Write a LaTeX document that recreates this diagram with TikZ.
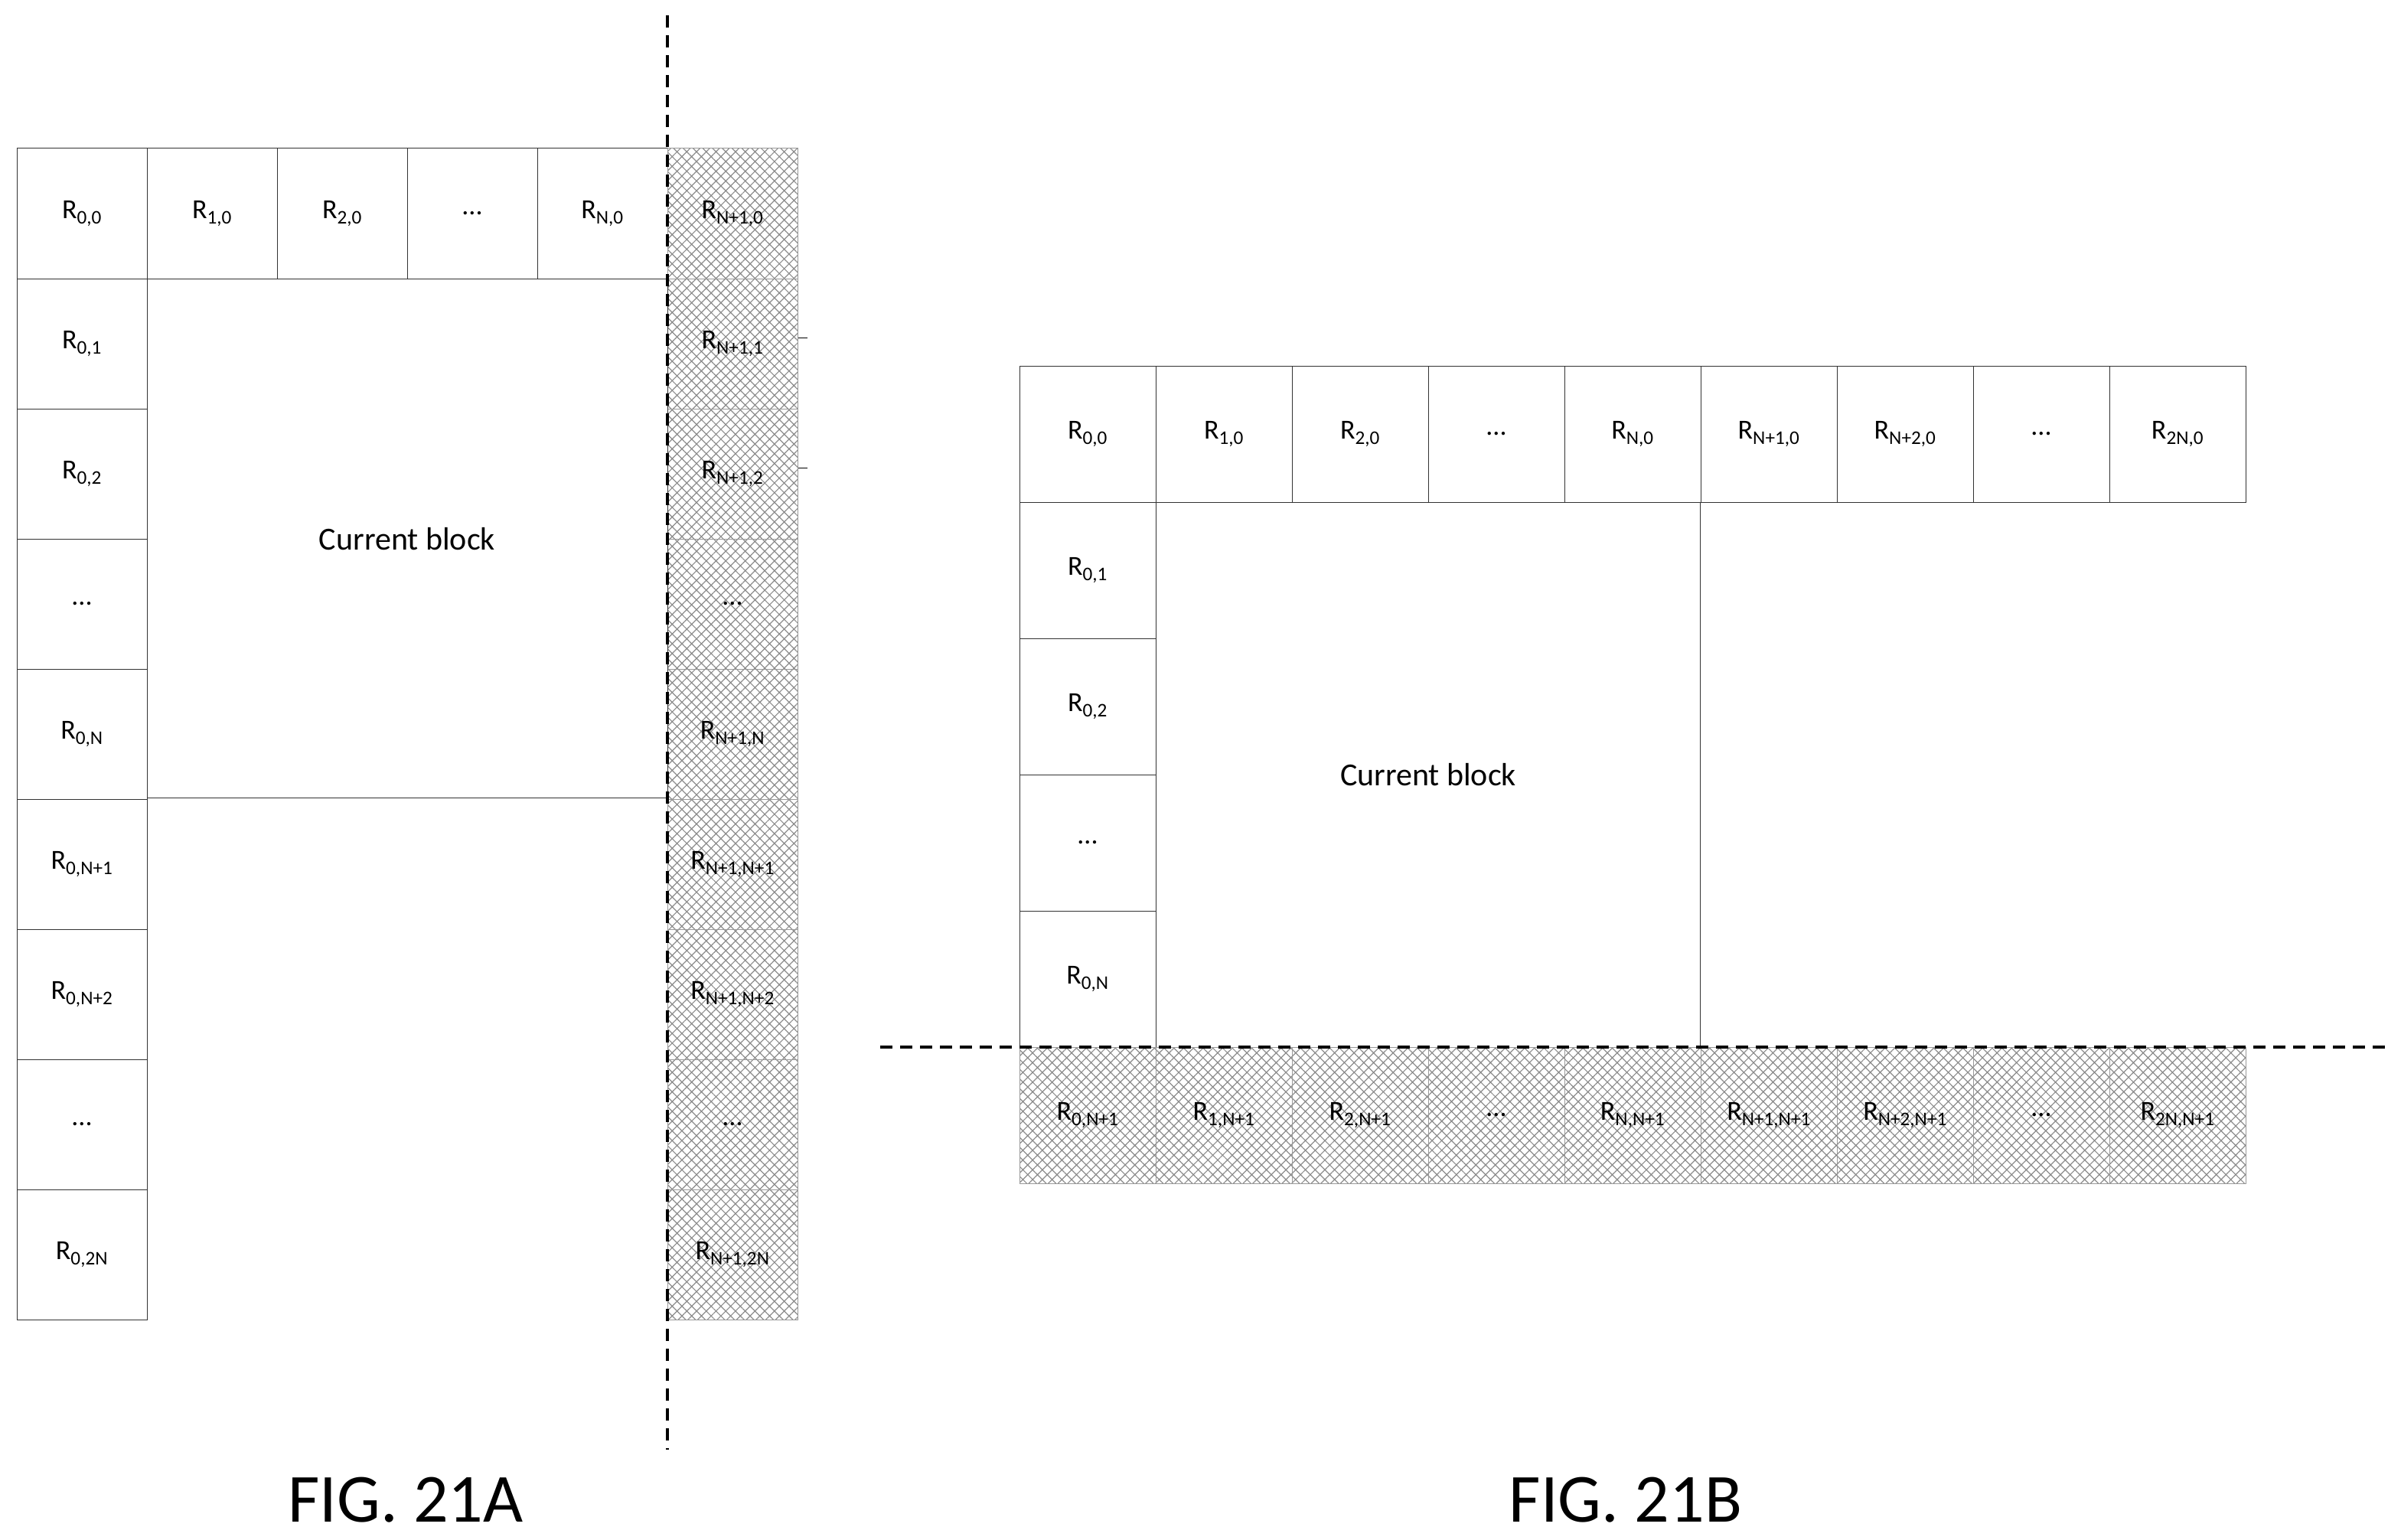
\documentclass[tikz,border=0pt]{standalone}
\usepackage{fontspec}
\setmainfont{Carlito}
\usetikzlibrary{patterns.meta}
\newcommand\myd{...}
\newcommand\myR[1]{R\textsubscript{#1}}
\begin{document}
\begin{tikzpicture}[x=2pt,y=-2pt,
 cellA/.style={draw=black!80,line width=1pt,minimum width=170pt,minimum height=170pt,inner sep=0pt,font=\fontsize{36}{40}\selectfont},
 cellB/.style={cellA,minimum width=178pt,minimum height=178pt},
 hat/.style={pattern={Hatch[angle=45,distance=9pt,line width=1.2pt]},pattern color=black!45,draw=black!40},
 mydash/.style={line width=3.2pt,dash pattern=on 16pt off 10pt},
 lbl/.style={font=\fontsize{90}{96}\selectfont},
 cur/.style={font=\fontsize{42}{46}\selectfont}]
\useasboundingbox (0,0) rectangle (1568.5,1006);
% ---- Fig 21A
\node[cellA] (a00) at (53.5,139.5) {\myR{0,0}};
\node[cellA] (a10) at (138.5,139.5) {\myR{1,0}};
\node[cellA] (a20) at (223.5,139.5) {\myR{2,0}};
\node[cellA] (a30) at (308.5,139.5) {\myd};
\node[cellA] (aN0) at (393.5,139.5) {\myR{N,0}};
\foreach \lab [count=\k] in {{\myR{0,1}},{\myR{0,2}},{\myd},{\myR{0,N}},{\myR{0,N+1}},{\myR{0,N+2}},{\myd},{\myR{0,2N}}}
  \node[cellA] (al\k) at (53.5,139.5+85*\k) {\lab};
\foreach \lab [count=\k from 0] in {{\myR{N+1,0}},{\myR{N+1,1}},{\myR{N+1,2}},{\myd},{\myR{N+1,N}},{\myR{N+1,N+1}},{\myR{N+1,N+2}},{\myd},{\myR{N+1,2N}}}
  \node[cellA,hat] (ar\k) at (478.5,139.5+85*\k) {\lab};
\node[draw=black!80,line width=1pt,minimum width=680pt,minimum height=678pt,inner sep=0pt] (acur) at (266,351.5) {};
\node[cur] (acurl) at (266,352) {Current block};
\draw[line width=1pt] (ar1.east) ++(0,-4) coordinate (t1) -- ++(6,0) coordinate (t1e);
\draw[line width=1pt] (ar2.east) ++(0,-4) coordinate (t2) -- ++(6,0) coordinate (t2e);
\coordinate (dA1) at (436,10); \coordinate (dA2) at (436,947);
\draw[mydash] (dA1) -- (dA2);
\node[lbl] (figA) at (265,980) {FIG. 21A};
% ---- Fig 21B
\foreach \lab [count=\k from 0] in {{\myR{0,0}},{\myR{1,0}},{\myR{2,0}},{\myd},{\myR{N,0}},{\myR{N+1,0}},{\myR{N+2,0}},{\myd},{\myR{2N,0}}}
  \node[cellB] (bt\k) at (710.5+89*\k,283.5) {\lab};
\foreach \lab [count=\k] in {{\myR{0,1}},{\myR{0,2}},{\myd},{\myR{0,N}}}
  \node[cellB] (bl\k) at (710.5,283.5+89*\k) {\lab};
\foreach \lab [count=\k from 0] in {{\myR{0,N+1}},{\myR{1,N+1}},{\myR{2,N+1}},{\myd},{\myR{N,N+1}},{\myR{N+1,N+1}},{\myR{N+2,N+1}},{\myd},{\myR{2N,N+1}}}
  \node[cellB,hat] (bb\k) at (710.5+89*\k,728.5) {\lab};
\draw[line width=1pt,black!80] (bt5.south west) -- (bb5.north west);
\node[cur] (bcurl) at (933,506) {Current block};
\coordinate (dB1) at (575,684); \coordinate (dB2) at (1560,684);
\draw[mydash] (dB1) -- (dB2);
\node[lbl] (figB) at (1062,980) {FIG. 21B};
\end{tikzpicture}
\end{document}
